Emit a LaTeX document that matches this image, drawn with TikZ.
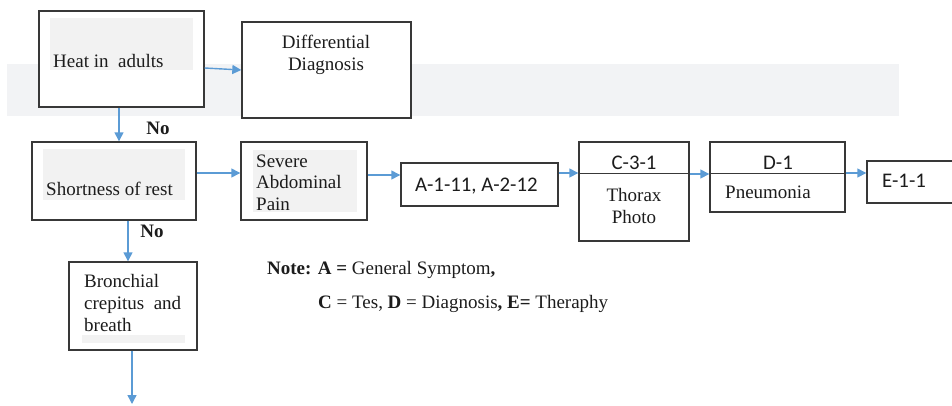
\documentclass[tikz,border=0pt]{standalone}
\usepackage{fontspec}
\setmainfont{Liberation Serif}
\newfontfamily\labsans{Carlito}
\usetikzlibrary{arrows.meta}
\definecolor{boxline}{HTML}{383838}
\definecolor{flowblue}{HTML}{5B9BD5}
\definecolor{bandgray}{HTML}{F2F3F5}
\definecolor{padgray}{HTML}{F2F2F2}
\definecolor{ink}{HTML}{1C1C1C}

\begin{document}
\begin{tikzpicture}[x=1pt,y=-1pt,
  box/.style={draw=boxline, line width=1.4pt, fill=white, inner sep=0pt},
  txt/.style={inner sep=0pt, text=ink, font=\fontsize{19}{22}\selectfont},
  lft/.style={txt, anchor=base west},
  mid/.style={txt, anchor=base},
  code/.style={inner sep=0pt, text=ink, font=\labsans\fontsize{20.8}{24}\selectfont, anchor=base west},
  codemid/.style={code, anchor=base},
  flow/.style={draw=flowblue, line width=1.4pt, -{Triangle[length=9pt,width=9pt]}},
  divider/.style={draw=boxline, line width=1.4pt},
  pad/.style={fill=padgray, draw=none}]

\useasboundingbox (0,0) rectangle (952,405);
\clip (0,0) rectangle (952,405);

% pale band behind the top row
\fill[bandgray] (7,64) rectangle (899,116);

% boxes
\node[box, minimum width=165pt, minimum height=96pt] (heat) at (121.5,59) {};
\node[box, minimum width=169pt, minimum height=96pt] (diff) at (326.5,70) {};
\node[box, minimum width=164pt, minimum height=78pt] (short) at (114,181) {};
\node[box, minimum width=126pt, minimum height=78pt] (sev) at (304,181) {};
\node[box, minimum width=157pt, minimum height=43pt] (abox) at (479.5,184.5) {};
\node[box, minimum width=110pt, minimum height=99pt] (cbox) at (634,191.5) {};
\node[box, minimum width=135pt, minimum height=70pt] (dbox) at (777.5,177) {};
\node[box, minimum width=123pt, minimum height=42pt] (ebox) at (928.5,182) {};
\node[box, minimum width=128pt, minimum height=88pt] (bron) at (133,306) {};

% shaded text pads inside boxes
\fill[pad] (50,18) rectangle (193,70);
\fill[pad] (43,149) rectangle (185,200);
\fill[pad] (253,150) rectangle (357,212);
\fill[pad] (82,335) rectangle (185,343);

% header rules of the C and D boxes
\draw[divider] ([yshift=-32pt]cbox.north west) -- ([yshift=-32pt]cbox.north east);
\draw[divider] ([yshift=-32pt]dbox.north west) -- ([yshift=-32pt]dbox.north east);

% texts
\node[lft] (heatT) at (53,67) {Heat in\ \ adults};
\node[mid] (diffT1) at (326,48) {Differential};
\node[mid] (diffT2) at (326,70) {Diagnosis};
\node[lft] (shortT) at (46,195) {Shortness of rest};
\node[lft] (sevT1) at (256,167) {Severe};
\node[lft] (sevT2) at (256,188) {Abdominal};
\node[lft] (sevT3) at (256,210) {Pain};
\node[code] (aT) at (415,191) {A-1-11, A-2-12};
\node[codemid] (cT) at (634,169) {C-3-1};
\node[mid] (cT1) at (634,201) {Thorax};
\node[mid] (cT2) at (634,223) {Photo};
\node[codemid] (dT) at (778,169) {D-1};
\node[lft] (dT1) at (725,198) {Pneumonia};
\node[code] (eT) at (882,187) {E-1-1};
\node[lft] (bronT1) at (84,287) {Bronchial};
\node[lft] (bronT2) at (84,309) {\makebox[97pt][l]{crepitus\hfill and}};
\node[lft] (bronT3) at (84,331) {breath};
\node[mid, font=\bfseries\fontsize{19}{22}\selectfont] (no1) at (158,134) {No};
\node[mid, font=\bfseries\fontsize{19}{22}\selectfont] (no2) at (152,237) {No};
\node[lft] (note1) at (267,274) {\textbf{Note: A =} General Symptom\textbf{,}};
\node[lft] (note2) at (318,308) {\textbf{C} = Tes, \textbf{D} = Diagnosis\textbf{,} \textbf{E=} Theraphy};

% connectors
\coordinate (exit) at (132,404);
\draw[flow] ([yshift=-9pt]heat.east) -- (diff.west);
\draw[flow] ([xshift=-2.5pt]heat.south) -- ([xshift=-2.5pt]heat.south |- short.north);
\draw[flow] ([yshift=8pt]short.east) -- ([yshift=8pt]short.east -| sev.west);
\draw[flow] ([yshift=6pt]sev.east) -- ([yshift=6pt]sev.east -| abox.west);
\draw[flow] ([yshift=11.5pt]abox.east) -- ([yshift=11.5pt]abox.east -| cbox.west);
\draw[flow] ([yshift=17.5pt]cbox.east) -- ([yshift=17.5pt]cbox.east -| dbox.west);
\draw[flow] ([yshift=4pt]dbox.east) -- ([yshift=4pt]dbox.east -| ebox.west);
\draw[flow] ([xshift=14pt]short.south) -- ([xshift=14pt]short.south |- bron.north);
\draw[flow] ([xshift=-1pt]bron.south) -- (exit);
\end{tikzpicture}
\end{document}
